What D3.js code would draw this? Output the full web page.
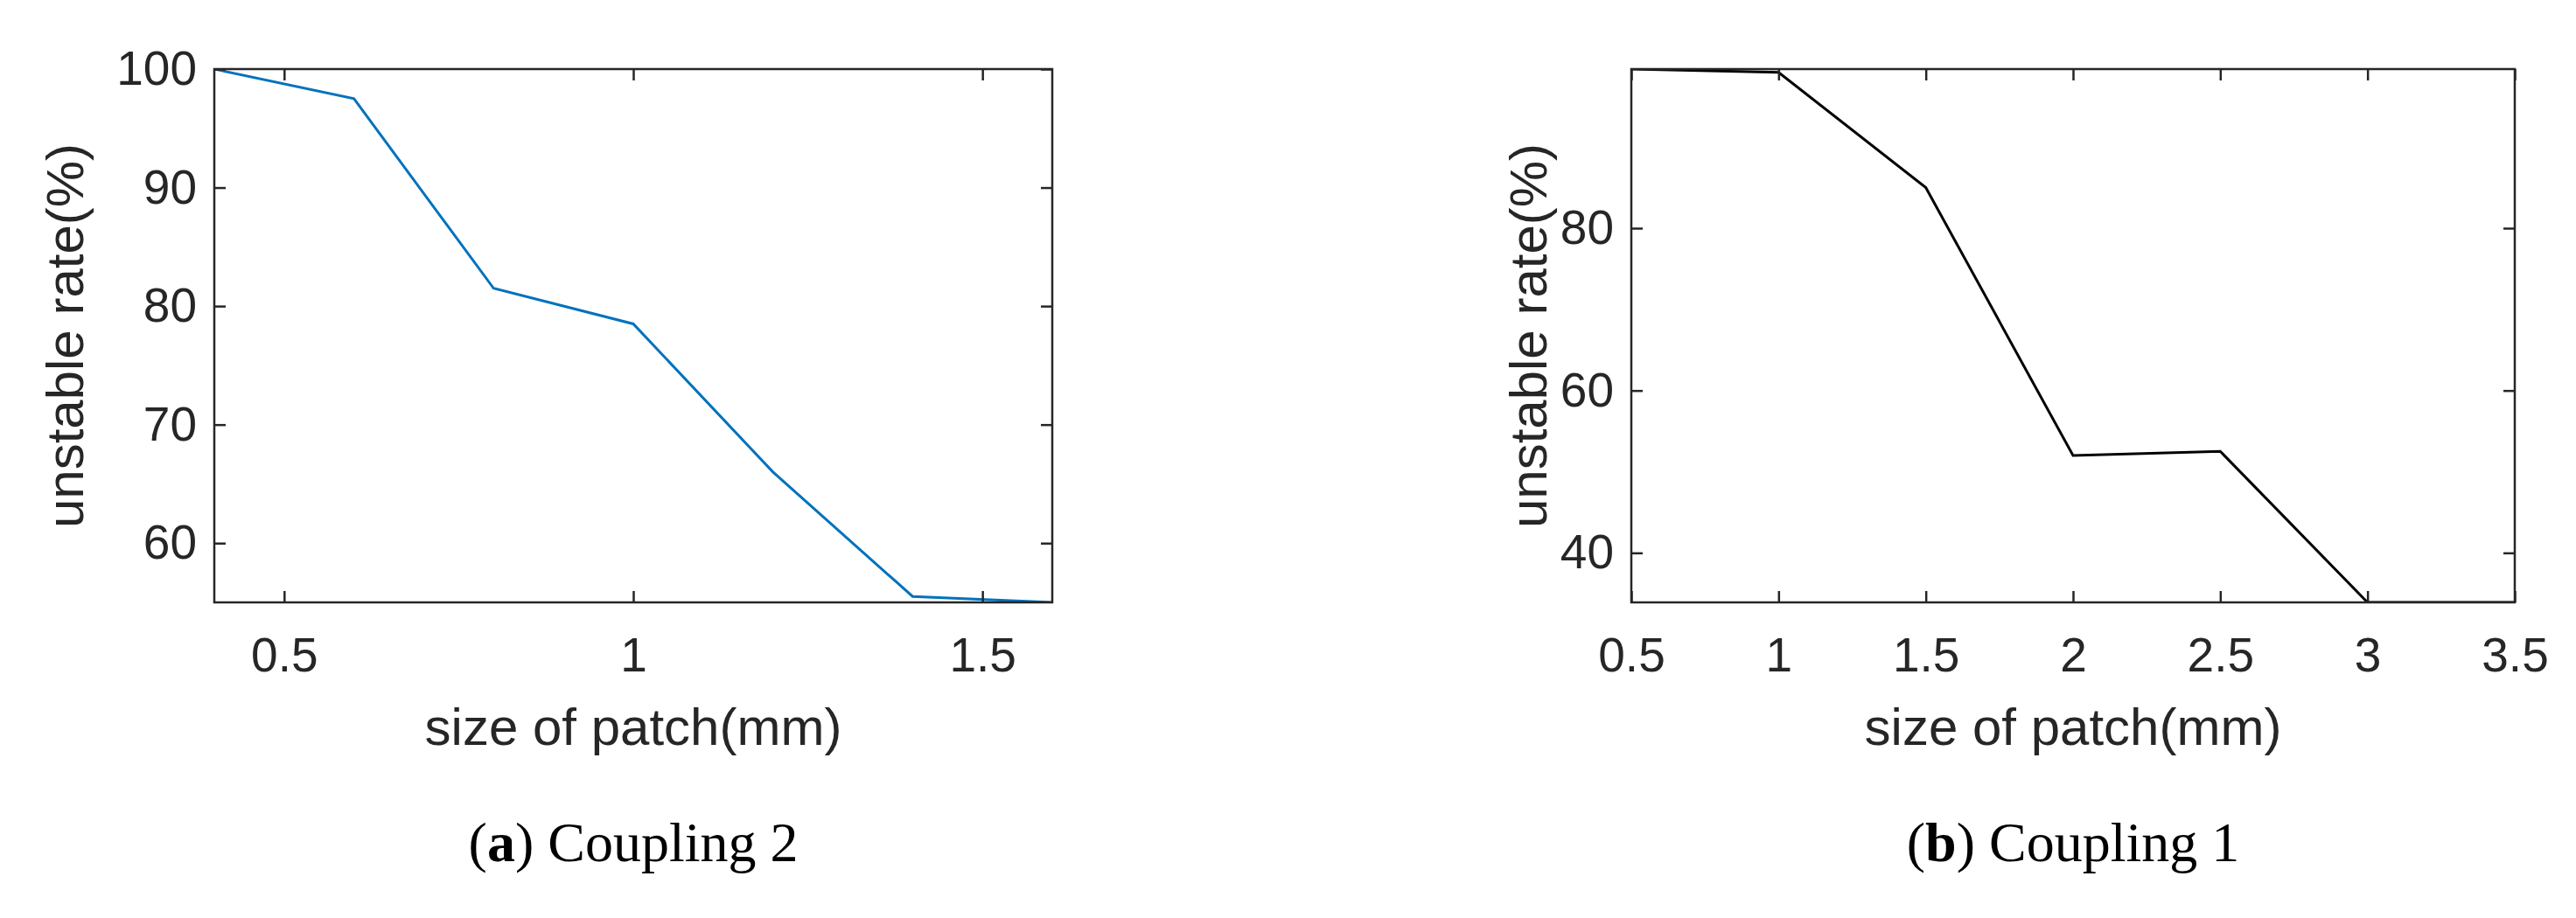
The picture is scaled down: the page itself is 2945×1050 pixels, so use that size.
<!DOCTYPE html><html><head><meta charset="utf-8">
<script src="https://cdn.jsdelivr.net/npm/d3@7"></script>
<style>body{margin:0;background:#fff}</style></head><body>
<svg id="c" width="2945" height="1050"></svg>
<script>
const xA=[0.4,0.6,0.8,1.0,1.2,1.4,1.6];
const yA=[100,97.5,81.5,78.5,66,55.5,55];
const ticksXA=[0.5,1,1.5], ticksYA=[60,70,80,90,100];
const xB=[0.5,1,1.5,2,2.5,3,3.5];
const yB=[99.6,99.2,85,52,52.5,33.9,33.9];
const ticksXB=[0.5,1,1.5,2,2.5,3,3.5], ticksYB=[40,60,80];
const svg=d3.select("#c");
const tc="#262626";
function panel(o){
  const x=d3.scaleLinear().domain(o.xd).range([o.l,o.r]);
  const y=d3.scaleLinear().domain(o.yd).range([689,79]);
  const g=svg.append("g");
  const clip="clip"+o.id;
  g.append("clipPath").attr("id",clip).append("rect").attr("x",o.l).attr("y",79).attr("width",o.r-o.l).attr("height",610);
  g.append("path").datum(o.xs.map((v,i)=>[v,o.ys[i]])).attr("clip-path",`url(#${clip})`)
   .attr("d",d3.line().x(d=>x(d[0])).y(d=>y(d[1]))).attr("fill","none").attr("stroke",o.col).attr("stroke-width",3);
  const fs="Liberation Sans, Arial, sans-serif";
  const ax=(gen,tr)=>g.append("g").attr("transform",tr).call(gen).call(s=>{s.select(".domain").remove();s.selectAll("line").attr("stroke",tc).attr("stroke-width",2.5);s.selectAll("text").attr("fill",tc).attr("font-family",fs).attr("font-size",55);});
  ax(d3.axisBottom(x).tickValues(o.tx).tickSize(-13).tickPadding(40).tickFormat(d3.format("")),"translate(0,689)");
  ax(d3.axisTop(x).tickValues(o.tx).tickSize(-13).tickFormat(""),"translate(0,79)");
  ax(d3.axisLeft(y).tickValues(o.ty).tickSize(-13).tickPadding(20),`translate(${o.l},0)`);
  ax(d3.axisRight(y).tickValues(o.ty).tickSize(-13).tickFormat(""),`translate(${o.r},0)`);
  g.append("rect").attr("x",o.l).attr("y",79).attr("width",o.r-o.l).attr("height",610).attr("fill","none").attr("stroke",tc).attr("stroke-width",2.5);
  g.append("text").attr("x",(o.l+o.r)/2).attr("y",852).attr("text-anchor","middle").attr("fill",tc).attr("font-family",fs).attr("font-size",60).text("size of patch(mm)");
  g.append("text").attr("transform",`translate(${o.yl},384) rotate(-90)`).attr("text-anchor","middle").attr("fill",tc).attr("font-family",fs).attr("font-size",60).text("unstable rate(%)");
  const t=g.append("text").attr("x",(o.l+o.r)/2).attr("y",985).attr("text-anchor","middle").attr("font-family","Liberation Serif, serif").attr("font-size",64).attr("fill","#000");
  t.append("tspan").text("(");t.append("tspan").attr("font-weight","bold").text(o.lab);t.append("tspan").text(") "+o.cap);
}
panel({id:"a",l:245,r:1203,xd:[0.4,1.6],yd:[55,100],xs:xA,ys:yA,tx:ticksXA,ty:ticksYA,col:"#0072BD",yl:95,lab:"a",cap:"Coupling 2"});
panel({id:"b",l:1865,r:2875,xd:[0.5,3.5],yd:[33.9,99.6],xs:xB,ys:yB,tx:ticksXB,ty:ticksYB,col:"#000",yl:1768,lab:"b",cap:"Coupling 1"});
</script></body></html>
